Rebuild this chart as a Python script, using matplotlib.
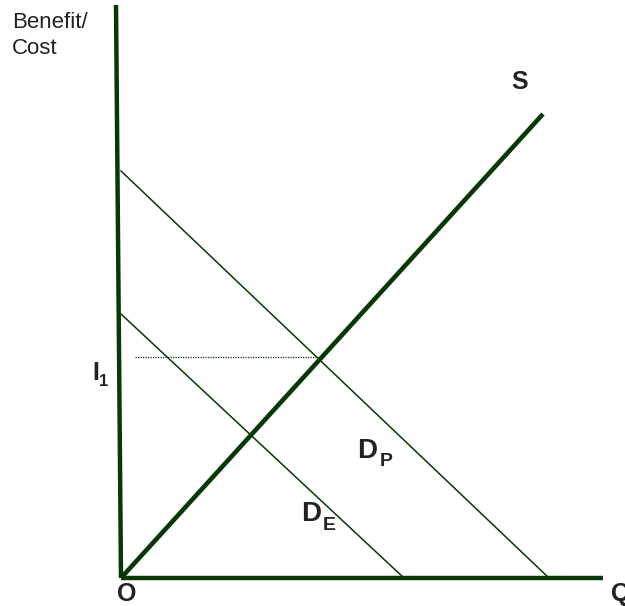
import matplotlib
matplotlib.use("Agg")
import matplotlib.pyplot as plt

plt.rcParams['font.family'] = ['Liberation Sans', 'DejaVu Sans']

# Data (origin O at 0,0)
y_axis_x = [-5, 0]
y_axis_y = [573, 0]
x_axis_x = [0, 482]
x_axis_y = [0, 0]
supply_x = [0, 422]
supply_y = [0, 464]
dp_x = [0, 428]
dp_y = [407, 0]
de_x = [0, 283]
de_y = [264, 0]
i1_level = 221
i1_x = [14, 197]

col = '#083808'

fig = plt.figure(figsize=(6.25, 6.06), dpi=100)
ax = fig.add_axes([0, 0, 1, 1])
ax.set_xlim(-121, 504)
ax.set_ylim(-28, 578)
ax.axis('off')

ax.plot(y_axis_x, y_axis_y, color=col, lw=3.2, solid_capstyle='butt')
ax.plot(x_axis_x, x_axis_y, color=col, lw=3.2, solid_capstyle='butt')
ax.plot(supply_x, supply_y, color=col, lw=3.3, solid_capstyle='butt')
ax.plot(dp_x, dp_y, color=col, lw=1.1)
ax.plot(de_x, de_y, color=col, lw=1.1)
ax.plot(i1_x, [i1_level, i1_level], color=col, lw=0.9, ls=(0, (1, 1)))

tc = '#222222'
ax.text(-109, 566, 'Benefit/\nCost', fontsize=16, color=tc, va='top', ha='left', linespacing=1.3)
ax.text(399, 496, 'S', fontsize=18, fontweight='bold', color=tc, ha='center', va='center')
ax.text(-25, 205, 'I', fontsize=18, fontweight='bold', color=tc, ha='center', va='center')
ax.text(-17, 196, '1', fontsize=12, fontweight='bold', color=tc, ha='center', va='center')
ax.text(6, -16, 'O', fontsize=18, fontweight='bold', color=tc, ha='center', va='center')
ax.text(500, -16, 'Q', fontsize=18, fontweight='bold', color=tc, ha='center', va='center')
ax.text(246, 127, 'D', fontsize=20, fontweight='bold', color=tc, ha='center', va='center')
ax.text(265, 116, 'P', fontsize=14, fontweight='bold', color=tc, ha='center', va='center')
ax.text(190, 64, 'D', fontsize=20, fontweight='bold', color=tc, ha='center', va='center')
ax.text(208, 52, 'E', fontsize=14, fontweight='bold', color=tc, ha='center', va='center')

fig.savefig('out.png', dpi=100)
